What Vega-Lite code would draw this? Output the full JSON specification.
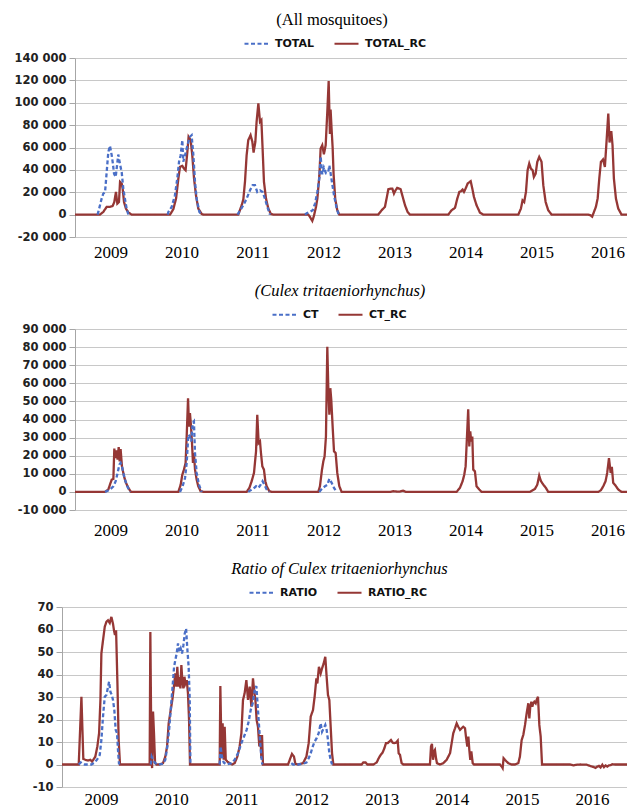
{
"$schema": "https://vega.github.io/schema/vega-lite/v6.json",
"padding": {"left": 11, "top": 11, "right": 0, "bottom": 0},
"background": "white",
"spacing": 22,
"config": {
  "view": {"stroke": null},
  "title": {"font": "Liberation Serif", "fontSize": 16.5, "fontWeight": "normal", "color": "black", "offset": 2},
  "axisY": {"domainColor": "#a6a6a6", "tickColor": "#a6a6a6", "tickSize": 6, "gridColor": "#c8c8c8", "labelFont": "DejaVu Sans", "labelFontWeight": "bold", "labelFontSize": 11.5, "labelColor": "#222222", "labelPadding": 3, "title": null},
  "axisX": {"grid": false, "ticks": false, "tickSize": 0, "domain": false, "labelFont": "Liberation Serif", "labelFontSize": 17, "labelColor": "black", "labelPadding": 7, "title": null, "labelFlush": false},
  "legend": {"title": null, "orient": "none", "direction": "horizontal", "symbolType": "stroke", "symbolSize": 576, "symbolStrokeWidth": 2.2, "labelFont": "DejaVu Sans", "labelFontWeight": "bold", "labelFontSize": 11, "labelColor": "#111111", "columnPadding": 15, "labelOffset": 5}
},
"resolve": {"scale": {"color": "independent", "strokeDash": "independent", "x": "independent", "y": "independent"}, "legend": {"color": "independent", "strokeDash": "independent"}},
"datasets": {
"t": [
{"s":"TOTAL","g":2009,"w":16.5,"v":0},{"s":"TOTAL","g":2009,"w":17.1,"v":2400},{"s":"TOTAL","g":2009,"w":19.5,"v":14300},{"s":"TOTAL","g":2009,"w":20.7,"v":18800},{"s":"TOTAL","g":2009,"w":22.0,"v":20000},{"s":"TOTAL","g":2009,"w":23.2,"v":38000},{"s":"TOTAL","g":2009,"w":24.4,"v":56000},{"s":"TOTAL","g":2009,"w":25.6,"v":61500},{"s":"TOTAL","g":2009,"w":26.9,"v":53000},{"s":"TOTAL","g":2009,"w":27.6,"v":47000},{"s":"TOTAL","g":2009,"w":28.6,"v":36700},{"s":"TOTAL","g":2009,"w":29.8,"v":33700},{"s":"TOTAL","g":2009,"w":30.5,"v":41000},{"s":"TOTAL","g":2009,"w":31.7,"v":53700},{"s":"TOTAL","g":2009,"w":33.0,"v":45000},{"s":"TOTAL","g":2009,"w":34.2,"v":38000},{"s":"TOTAL","g":2009,"w":35.4,"v":23000},{"s":"TOTAL","g":2009,"w":36.6,"v":14000},{"s":"TOTAL","g":2009,"w":37.8,"v":5400},{"s":"TOTAL","g":2009,"w":39.1,"v":0},
{"s":"TOTAL","g":2010,"w":67.9,"v":0},{"s":"TOTAL","g":2010,"w":68.4,"v":2400},{"s":"TOTAL","g":2010,"w":70.8,"v":6900},{"s":"TOTAL","g":2010,"w":73.2,"v":17300},{"s":"TOTAL","g":2010,"w":74.9,"v":32200},{"s":"TOTAL","g":2010,"w":76.2,"v":47200},{"s":"TOTAL","g":2010,"w":77.4,"v":53100},{"s":"TOTAL","g":2010,"w":78.6,"v":66600},{"s":"TOTAL","g":2010,"w":79.3,"v":47200},{"s":"TOTAL","g":2010,"w":80.6,"v":53100},{"s":"TOTAL","g":2010,"w":81.8,"v":59100},{"s":"TOTAL","g":2010,"w":83.0,"v":65100},{"s":"TOTAL","g":2010,"w":84.2,"v":69600},{"s":"TOTAL","g":2010,"w":85.4,"v":71000},{"s":"TOTAL","g":2010,"w":86.7,"v":53100},{"s":"TOTAL","g":2010,"w":87.9,"v":29300},{"s":"TOTAL","g":2010,"w":89.1,"v":14300},{"s":"TOTAL","g":2010,"w":91.1,"v":2400},{"s":"TOTAL","g":2010,"w":92.8,"v":0},
{"s":"TOTAL","g":2011,"w":119.1,"v":0},{"s":"TOTAL","g":2011,"w":119.6,"v":1200},{"s":"TOTAL","g":2011,"w":123.3,"v":8400},{"s":"TOTAL","g":2011,"w":125.7,"v":14300},{"s":"TOTAL","g":2011,"w":128.2,"v":21800},{"s":"TOTAL","g":2011,"w":130.1,"v":26300},{"s":"TOTAL","g":2011,"w":131.8,"v":26300},{"s":"TOTAL","g":2011,"w":133.5,"v":20300},{"s":"TOTAL","g":2011,"w":135.5,"v":21800},{"s":"TOTAL","g":2011,"w":137.4,"v":20300},{"s":"TOTAL","g":2011,"w":139.1,"v":14300},{"s":"TOTAL","g":2011,"w":140.9,"v":6900},{"s":"TOTAL","g":2011,"w":142.8,"v":0},
{"s":"TOTAL","g":2012,"w":168.4,"v":0},{"s":"TOTAL","g":2012,"w":169.7,"v":1200},{"s":"TOTAL","g":2012,"w":172.1,"v":2400},{"s":"TOTAL","g":2012,"w":174.1,"v":3900},{"s":"TOTAL","g":2012,"w":175.8,"v":9900},{"s":"TOTAL","g":2012,"w":177.5,"v":20300},{"s":"TOTAL","g":2012,"w":179.0,"v":33000},{"s":"TOTAL","g":2012,"w":179.9,"v":52000},{"s":"TOTAL","g":2012,"w":181.1,"v":36000},{"s":"TOTAL","g":2012,"w":182.3,"v":42000},{"s":"TOTAL","g":2012,"w":183.8,"v":37000},{"s":"TOTAL","g":2012,"w":185.5,"v":38000},{"s":"TOTAL","g":2012,"w":186.3,"v":44000},{"s":"TOTAL","g":2012,"w":188.0,"v":30700},{"s":"TOTAL","g":2012,"w":189.7,"v":17300},{"s":"TOTAL","g":2012,"w":191.6,"v":6000},{"s":"TOTAL","g":2012,"w":193.1,"v":0}
],
"trc": [
{"s":"TOTAL_RC","w":0,"v":0},{"s":"TOTAL_RC","w":18.3,"v":0},{"s":"TOTAL_RC","w":20.7,"v":2400},{"s":"TOTAL_RC","w":23.2,"v":6900},{"s":"TOTAL_RC","w":25.6,"v":6900},{"s":"TOTAL_RC","w":27.6,"v":7800},{"s":"TOTAL_RC","w":28.8,"v":11300},{"s":"TOTAL_RC","w":30.0,"v":20300},{"s":"TOTAL_RC","w":31.0,"v":9900},{"s":"TOTAL_RC","w":32.2,"v":11300},{"s":"TOTAL_RC","w":33.0,"v":29300},{"s":"TOTAL_RC","w":34.2,"v":27800},{"s":"TOTAL_RC","w":34.9,"v":23300},{"s":"TOTAL_RC","w":35.9,"v":11300},{"s":"TOTAL_RC","w":37.3,"v":5400},{"s":"TOTAL_RC","w":39.1,"v":1800},{"s":"TOTAL_RC","w":41.5,"v":0},
{"s":"TOTAL_RC","w":69.6,"v":0},{"s":"TOTAL_RC","w":72.0,"v":4800},{"s":"TOTAL_RC","w":74.0,"v":14300},{"s":"TOTAL_RC","w":75.7,"v":32200},{"s":"TOTAL_RC","w":76.9,"v":42700},{"s":"TOTAL_RC","w":78.6,"v":43600},{"s":"TOTAL_RC","w":79.8,"v":41200},{"s":"TOTAL_RC","w":81.0,"v":39700},{"s":"TOTAL_RC","w":82.3,"v":56100},{"s":"TOTAL_RC","w":83.2,"v":69600},{"s":"TOTAL_RC","w":84.7,"v":66600},{"s":"TOTAL_RC","w":85.9,"v":53100},{"s":"TOTAL_RC","w":87.2,"v":32200},{"s":"TOTAL_RC","w":88.6,"v":17300},{"s":"TOTAL_RC","w":90.3,"v":5400},{"s":"TOTAL_RC","w":92.8,"v":600},{"s":"TOTAL_RC","w":94.0,"v":0},
{"s":"TOTAL_RC","w":119.6,"v":0},{"s":"TOTAL_RC","w":122.1,"v":8400},{"s":"TOTAL_RC","w":123.3,"v":13700},{"s":"TOTAL_RC","w":124.5,"v":29300},{"s":"TOTAL_RC","w":125.7,"v":53100},{"s":"TOTAL_RC","w":126.9,"v":66600},{"s":"TOTAL_RC","w":128.6,"v":71000},{"s":"TOTAL_RC","w":129.9,"v":65100},{"s":"TOTAL_RC","w":130.8,"v":55500},{"s":"TOTAL_RC","w":132.1,"v":65100},{"s":"TOTAL_RC","w":133.0,"v":83000},{"s":"TOTAL_RC","w":134.3,"v":99400},{"s":"TOTAL_RC","w":135.5,"v":83000},{"s":"TOTAL_RC","w":136.5,"v":84500},{"s":"TOTAL_RC","w":137.4,"v":59100},{"s":"TOTAL_RC","w":138.4,"v":29300},{"s":"TOTAL_RC","w":139.9,"v":14300},{"s":"TOTAL_RC","w":141.6,"v":5400},{"s":"TOTAL_RC","w":143.5,"v":600},{"s":"TOTAL_RC","w":145.2,"v":0},
{"s":"TOTAL_RC","w":170.9,"v":0},{"s":"TOTAL_RC","w":172.1,"v":-2000},{"s":"TOTAL_RC","w":173.8,"v":-5700},{"s":"TOTAL_RC","w":175.0,"v":-1200},{"s":"TOTAL_RC","w":176.5,"v":6900},{"s":"TOTAL_RC","w":177.5,"v":14300},{"s":"TOTAL_RC","w":179.0,"v":35000},{"s":"TOTAL_RC","w":179.9,"v":59000},{"s":"TOTAL_RC","w":181.1,"v":62000},{"s":"TOTAL_RC","w":182.3,"v":54000},{"s":"TOTAL_RC","w":183.6,"v":62000},{"s":"TOTAL_RC","w":184.8,"v":92000},{"s":"TOTAL_RC","w":185.8,"v":119500},{"s":"TOTAL_RC","w":186.7,"v":72000},{"s":"TOTAL_RC","w":187.2,"v":94000},{"s":"TOTAL_RC","w":188.0,"v":75000},{"s":"TOTAL_RC","w":188.7,"v":60000},{"s":"TOTAL_RC","w":189.4,"v":36000},{"s":"TOTAL_RC","w":190.6,"v":14000},{"s":"TOTAL_RC","w":192.1,"v":4000},{"s":"TOTAL_RC","w":193.6,"v":0},
{"s":"TOTAL_RC","w":222.1,"v":0},{"s":"TOTAL_RC","w":224.6,"v":3900},{"s":"TOTAL_RC","w":227.0,"v":6900},{"s":"TOTAL_RC","w":228.2,"v":14300},{"s":"TOTAL_RC","w":229.5,"v":22700},{"s":"TOTAL_RC","w":231.2,"v":23300},{"s":"TOTAL_RC","w":232.4,"v":23300},{"s":"TOTAL_RC","w":233.6,"v":18800},{"s":"TOTAL_RC","w":234.8,"v":21800},{"s":"TOTAL_RC","w":236.0,"v":23900},{"s":"TOTAL_RC","w":237.3,"v":23300},{"s":"TOTAL_RC","w":238.5,"v":22700},{"s":"TOTAL_RC","w":239.7,"v":17300},{"s":"TOTAL_RC","w":241.7,"v":8400},{"s":"TOTAL_RC","w":243.6,"v":2400},{"s":"TOTAL_RC","w":245.3,"v":0},
{"s":"TOTAL_RC","w":273.4,"v":0},{"s":"TOTAL_RC","w":275.8,"v":3900},{"s":"TOTAL_RC","w":278.3,"v":6000},{"s":"TOTAL_RC","w":280.0,"v":14300},{"s":"TOTAL_RC","w":281.5,"v":20300},{"s":"TOTAL_RC","w":282.7,"v":20900},{"s":"TOTAL_RC","w":283.9,"v":22400},{"s":"TOTAL_RC","w":284.9,"v":20300},{"s":"TOTAL_RC","w":286.1,"v":23300},{"s":"TOTAL_RC","w":287.6,"v":27800},{"s":"TOTAL_RC","w":289.8,"v":29900},{"s":"TOTAL_RC","w":291.0,"v":23300},{"s":"TOTAL_RC","w":292.2,"v":15800},{"s":"TOTAL_RC","w":294.1,"v":8400},{"s":"TOTAL_RC","w":296.6,"v":1800},{"s":"TOTAL_RC","w":299.0,"v":0},
{"s":"TOTAL_RC","w":324.7,"v":0},{"s":"TOTAL_RC","w":326.6,"v":5400},{"s":"TOTAL_RC","w":327.8,"v":12800},{"s":"TOTAL_RC","w":329.0,"v":11300},{"s":"TOTAL_RC","w":330.3,"v":20300},{"s":"TOTAL_RC","w":331.5,"v":39700},{"s":"TOTAL_RC","w":332.7,"v":45700},{"s":"TOTAL_RC","w":333.9,"v":41200},{"s":"TOTAL_RC","w":335.2,"v":39700},{"s":"TOTAL_RC","w":336.1,"v":33700},{"s":"TOTAL_RC","w":337.4,"v":36700},{"s":"TOTAL_RC","w":338.6,"v":47200},{"s":"TOTAL_RC","w":340.0,"v":51600},{"s":"TOTAL_RC","w":341.7,"v":47200},{"s":"TOTAL_RC","w":343.0,"v":26300},{"s":"TOTAL_RC","w":344.7,"v":11300},{"s":"TOTAL_RC","w":346.6,"v":3900},{"s":"TOTAL_RC","w":349.1,"v":0},
{"s":"TOTAL_RC","w":375.9,"v":0},{"s":"TOTAL_RC","w":377.6,"v":-600},{"s":"TOTAL_RC","w":378.8,"v":-1800},{"s":"TOTAL_RC","w":380.1,"v":2400},{"s":"TOTAL_RC","w":381.5,"v":6900},{"s":"TOTAL_RC","w":382.8,"v":14300},{"s":"TOTAL_RC","w":384.0,"v":32200},{"s":"TOTAL_RC","w":385.2,"v":47200},{"s":"TOTAL_RC","w":386.7,"v":49300},{"s":"TOTAL_RC","w":388.1,"v":42700},{"s":"TOTAL_RC","w":389.3,"v":65100},{"s":"TOTAL_RC","w":390.6,"v":90400},{"s":"TOTAL_RC","w":391.5,"v":64500},{"s":"TOTAL_RC","w":392.8,"v":74600},{"s":"TOTAL_RC","w":393.7,"v":62100},{"s":"TOTAL_RC","w":394.7,"v":32200},{"s":"TOTAL_RC","w":396.2,"v":14300},{"s":"TOTAL_RC","w":397.9,"v":5400},{"s":"TOTAL_RC","w":400.3,"v":0},{"s":"TOTAL_RC","w":404.3,"v":0}
],
"c": [
{"s":"CT","g":2009,"w":22.0,"v":0},{"s":"CT","g":2009,"w":23.2,"v":400},{"s":"CT","g":2009,"w":25.6,"v":1300},{"s":"CT","g":2009,"w":28.1,"v":3100},{"s":"CT","g":2009,"w":29.8,"v":5900},{"s":"CT","g":2009,"w":31.2,"v":10500},{"s":"CT","g":2009,"w":32.5,"v":15000},{"s":"CT","g":2009,"w":33.4,"v":16000},{"s":"CT","g":2009,"w":34.4,"v":14100},{"s":"CT","g":2009,"w":35.4,"v":10500},{"s":"CT","g":2009,"w":36.6,"v":6800},{"s":"CT","g":2009,"w":38.3,"v":3100},{"s":"CT","g":2009,"w":40.3,"v":0},
{"s":"CT","g":2010,"w":76.9,"v":0},{"s":"CT","g":2010,"w":78.8,"v":3100},{"s":"CT","g":2010,"w":80.6,"v":7700},{"s":"CT","g":2010,"w":81.8,"v":16000},{"s":"CT","g":2010,"w":83.0,"v":31600},{"s":"CT","g":2010,"w":84.2,"v":30600},{"s":"CT","g":2010,"w":85.2,"v":27900},{"s":"CT","g":2010,"w":86.2,"v":38000},{"s":"CT","g":2010,"w":87.1,"v":38900},{"s":"CT","g":2010,"w":87.9,"v":21500},{"s":"CT","g":2010,"w":89.1,"v":10500},{"s":"CT","g":2010,"w":90.8,"v":4000},{"s":"CT","g":2010,"w":92.8,"v":0},
{"s":"CT","g":2011,"w":126.9,"v":0},{"s":"CT","g":2011,"w":128.2,"v":700},{"s":"CT","g":2011,"w":130.6,"v":1800},{"s":"CT","g":2011,"w":132.6,"v":3100},{"s":"CT","g":2011,"w":134.3,"v":2200},{"s":"CT","g":2011,"w":136.0,"v":4000},{"s":"CT","g":2011,"w":137.4,"v":5900},{"s":"CT","g":2011,"w":138.7,"v":4000},{"s":"CT","g":2011,"w":140.4,"v":1300},{"s":"CT","g":2011,"w":142.3,"v":0},
{"s":"CT","g":2012,"w":178.9,"v":0},{"s":"CT","g":2012,"w":181.4,"v":2200},{"s":"CT","g":2012,"w":183.1,"v":3100},{"s":"CT","g":2012,"w":184.8,"v":3900},{"s":"CT","g":2012,"w":186.3,"v":7200},{"s":"CT","g":2012,"w":188.0,"v":5000},{"s":"CT","g":2012,"w":189.7,"v":2200},{"s":"CT","g":2012,"w":191.6,"v":0}
],
"crc": [
{"s":"CT_RC","w":0,"v":0},{"s":"CT_RC","w":22.0,"v":0},{"s":"CT_RC","w":24.4,"v":1300},{"s":"CT_RC","w":25.6,"v":4000},{"s":"CT_RC","w":26.9,"v":6800},{"s":"CT_RC","w":28.1,"v":7200},{"s":"CT_RC","w":28.8,"v":23900},{"s":"CT_RC","w":29.5,"v":18700},{"s":"CT_RC","w":30.5,"v":22900},{"s":"CT_RC","w":31.2,"v":17800},{"s":"CT_RC","w":32.0,"v":24800},{"s":"CT_RC","w":32.7,"v":16900},{"s":"CT_RC","w":33.4,"v":23700},{"s":"CT_RC","w":34.4,"v":14100},{"s":"CT_RC","w":35.9,"v":8600},{"s":"CT_RC","w":37.3,"v":5000},{"s":"CT_RC","w":39.1,"v":2200},{"s":"CT_RC","w":41.0,"v":0},
{"s":"CT_RC","w":75.7,"v":0},{"s":"CT_RC","w":77.4,"v":4000},{"s":"CT_RC","w":78.6,"v":9500},{"s":"CT_RC","w":79.8,"v":12300},{"s":"CT_RC","w":81.0,"v":16000},{"s":"CT_RC","w":81.8,"v":30600},{"s":"CT_RC","w":82.8,"v":51700},{"s":"CT_RC","w":83.5,"v":36100},{"s":"CT_RC","w":84.2,"v":43500},{"s":"CT_RC","w":85.0,"v":36100},{"s":"CT_RC","w":85.7,"v":27000},{"s":"CT_RC","w":86.4,"v":16000},{"s":"CT_RC","w":87.1,"v":21500},{"s":"CT_RC","w":87.9,"v":12300},{"s":"CT_RC","w":89.1,"v":6800},{"s":"CT_RC","w":90.3,"v":3100},{"s":"CT_RC","w":92.0,"v":400},{"s":"CT_RC","w":94.0,"v":0},
{"s":"CT_RC","w":125.7,"v":0},{"s":"CT_RC","w":127.7,"v":2200},{"s":"CT_RC","w":129.4,"v":5900},{"s":"CT_RC","w":131.1,"v":10500},{"s":"CT_RC","w":132.6,"v":22400},{"s":"CT_RC","w":133.5,"v":42600},{"s":"CT_RC","w":134.5,"v":27000},{"s":"CT_RC","w":135.5,"v":27900},{"s":"CT_RC","w":136.2,"v":21500},{"s":"CT_RC","w":137.2,"v":14100},{"s":"CT_RC","w":138.4,"v":12300},{"s":"CT_RC","w":139.4,"v":5900},{"s":"CT_RC","w":140.4,"v":3100},{"s":"CT_RC","w":142.3,"v":400},{"s":"CT_RC","w":144.0,"v":0},
{"s":"CT_RC","w":178.2,"v":0},{"s":"CT_RC","w":179.4,"v":3100},{"s":"CT_RC","w":180.9,"v":12300},{"s":"CT_RC","w":181.9,"v":16900},{"s":"CT_RC","w":182.8,"v":19600},{"s":"CT_RC","w":183.8,"v":30600},{"s":"CT_RC","w":184.8,"v":80200},{"s":"CT_RC","w":185.5,"v":58200},{"s":"CT_RC","w":186.3,"v":42600},{"s":"CT_RC","w":187.0,"v":57300},{"s":"CT_RC","w":187.7,"v":50800},{"s":"CT_RC","w":188.7,"v":36100},{"s":"CT_RC","w":189.7,"v":22400},{"s":"CT_RC","w":190.9,"v":21500},{"s":"CT_RC","w":192.1,"v":10500},{"s":"CT_RC","w":193.6,"v":3100},{"s":"CT_RC","w":195.3,"v":0},
{"s":"CT_RC","w":230.7,"v":0},{"s":"CT_RC","w":233.1,"v":400},{"s":"CT_RC","w":235.6,"v":200},{"s":"CT_RC","w":238.0,"v":200},{"s":"CT_RC","w":240.4,"v":700},{"s":"CT_RC","w":242.2,"v":0},
{"s":"CT_RC","w":279.5,"v":0},{"s":"CT_RC","w":281.9,"v":2200},{"s":"CT_RC","w":283.9,"v":5900},{"s":"CT_RC","w":285.1,"v":9500},{"s":"CT_RC","w":286.1,"v":14100},{"s":"CT_RC","w":287.1,"v":30600},{"s":"CT_RC","w":288.0,"v":45700},{"s":"CT_RC","w":288.8,"v":25100},{"s":"CT_RC","w":289.5,"v":33400},{"s":"CT_RC","w":290.2,"v":27900},{"s":"CT_RC","w":291.0,"v":30600},{"s":"CT_RC","w":291.7,"v":12300},{"s":"CT_RC","w":292.9,"v":11400},{"s":"CT_RC","w":294.1,"v":3100},{"s":"CT_RC","w":296.1,"v":1300},{"s":"CT_RC","w":297.8,"v":0},
{"s":"CT_RC","w":333.2,"v":0},{"s":"CT_RC","w":335.2,"v":900},{"s":"CT_RC","w":336.9,"v":1700},{"s":"CT_RC","w":338.6,"v":4000},{"s":"CT_RC","w":340.0,"v":9000},{"s":"CT_RC","w":341.3,"v":5900},{"s":"CT_RC","w":343.0,"v":4000},{"s":"CT_RC","w":344.9,"v":2200},{"s":"CT_RC","w":346.6,"v":0},
{"s":"CT_RC","w":383.2,"v":0},{"s":"CT_RC","w":385.2,"v":900},{"s":"CT_RC","w":386.9,"v":3100},{"s":"CT_RC","w":388.6,"v":5900},{"s":"CT_RC","w":389.8,"v":10500},{"s":"CT_RC","w":391.1,"v":18700},{"s":"CT_RC","w":392.3,"v":10500},{"s":"CT_RC","w":393.2,"v":13800},{"s":"CT_RC","w":394.2,"v":5000},{"s":"CT_RC","w":395.9,"v":3500},{"s":"CT_RC","w":397.9,"v":1300},{"s":"CT_RC","w":400.3,"v":0},{"s":"CT_RC","w":404.3,"v":0}
],
"r": [
{"s":"RATIO","g":2009,"w":9.4,"v":0},{"s":"RATIO","g":2009,"w":10.9,"v":0.9},{"s":"RATIO","g":2009,"w":11.9,"v":0.3},{"s":"RATIO","g":2009,"w":13.8,"v":0},{"s":"RATIO","g":2009,"w":18.8,"v":0},{"s":"RATIO","g":2009,"w":21.3,"v":0.9},{"s":"RATIO","g":2009,"w":23.2,"v":2.4},{"s":"RATIO","g":2009,"w":25.0,"v":4.3},{"s":"RATIO","g":2009,"w":26.2,"v":10.9},{"s":"RATIO","g":2009,"w":27.4,"v":21.3},{"s":"RATIO","g":2009,"w":28.7,"v":30.1},{"s":"RATIO","g":2009,"w":29.9,"v":30.9},{"s":"RATIO","g":2009,"w":30.9,"v":33.8},{"s":"RATIO","g":2009,"w":31.9,"v":36.8},{"s":"RATIO","g":2009,"w":32.9,"v":32.3},{"s":"RATIO","g":2009,"w":33.9,"v":30.9},{"s":"RATIO","g":2009,"w":34.8,"v":28.7},{"s":"RATIO","g":2009,"w":35.8,"v":24.2},{"s":"RATIO","g":2009,"w":36.8,"v":15.4},{"s":"RATIO","g":2009,"w":37.8,"v":13.9},{"s":"RATIO","g":2009,"w":38.5,"v":6.5},{"s":"RATIO","g":2009,"w":39.3,"v":0},
{"s":"RATIO","g":2010,"w":62.8,"v":0},{"s":"RATIO","g":2010,"w":63.5,"v":3.5},{"s":"RATIO","g":2010,"w":64.5,"v":2.1},{"s":"RATIO","g":2010,"w":65.7,"v":0.9},{"s":"RATIO","g":2010,"w":67.5,"v":0},{"s":"RATIO","g":2010,"w":71.9,"v":0.3},{"s":"RATIO","g":2010,"w":73.6,"v":2.1},{"s":"RATIO","g":2010,"w":75.1,"v":8.0},{"s":"RATIO","g":2010,"w":76.4,"v":15.4},{"s":"RATIO","g":2010,"w":77.6,"v":24.2},{"s":"RATIO","g":2010,"w":78.8,"v":33.1},{"s":"RATIO","g":2010,"w":80.1,"v":43.4},{"s":"RATIO","g":2010,"w":81.0,"v":46.4},{"s":"RATIO","g":2010,"w":82.0,"v":49.3},{"s":"RATIO","g":2010,"w":83.0,"v":53.8},{"s":"RATIO","g":2010,"w":84.0,"v":50.1},{"s":"RATIO","g":2010,"w":85.0,"v":51.6},{"s":"RATIO","g":2010,"w":86.0,"v":49.3},{"s":"RATIO","g":2010,"w":87.0,"v":53.0},{"s":"RATIO","g":2010,"w":88.0,"v":58.2},{"s":"RATIO","g":2010,"w":89.0,"v":60.4},{"s":"RATIO","g":2010,"w":89.9,"v":51.6},{"s":"RATIO","g":2010,"w":90.9,"v":43.4},{"s":"RATIO","g":2010,"w":91.7,"v":28.7},{"s":"RATIO","g":2010,"w":92.2,"v":0},
{"s":"RATIO","g":2011,"w":113.9,"v":0},{"s":"RATIO","g":2011,"w":114.6,"v":8.0},{"s":"RATIO","g":2011,"w":115.6,"v":3.5},{"s":"RATIO","g":2011,"w":116.9,"v":0.9},{"s":"RATIO","g":2011,"w":118.9,"v":0},{"s":"RATIO","g":2011,"w":122.6,"v":0.6},{"s":"RATIO","g":2011,"w":125.0,"v":2.1},{"s":"RATIO","g":2011,"w":127.5,"v":5.0},{"s":"RATIO","g":2011,"w":130.0,"v":9.5},{"s":"RATIO","g":2011,"w":132.4,"v":13.1},{"s":"RATIO","g":2011,"w":133.9,"v":15.4},{"s":"RATIO","g":2011,"w":135.4,"v":19.1},{"s":"RATIO","g":2011,"w":136.9,"v":24.2},{"s":"RATIO","g":2011,"w":138.4,"v":27.2},{"s":"RATIO","g":2011,"w":139.9,"v":33.1},{"s":"RATIO","g":2011,"w":141.1,"v":34.9},{"s":"RATIO","g":2011,"w":141.8,"v":28.7},{"s":"RATIO","g":2011,"w":142.8,"v":19.8},{"s":"RATIO","g":2011,"w":143.8,"v":10.9},{"s":"RATIO","g":2011,"w":144.8,"v":3.5},{"s":"RATIO","g":2011,"w":145.5,"v":0},
{"s":"RATIO","g":2012,"w":167.0,"v":0.6},{"s":"RATIO","g":2012,"w":168.3,"v":0},{"s":"RATIO","g":2012,"w":172.0,"v":0},{"s":"RATIO","g":2012,"w":175.7,"v":0.3},{"s":"RATIO","g":2012,"w":178.2,"v":0.9},{"s":"RATIO","g":2012,"w":179.9,"v":2.8},{"s":"RATIO","g":2012,"w":181.4,"v":5.0},{"s":"RATIO","g":2012,"w":182.9,"v":8.0},{"s":"RATIO","g":2012,"w":184.3,"v":10.2},{"s":"RATIO","g":2012,"w":185.8,"v":11.7},{"s":"RATIO","g":2012,"w":187.3,"v":13.9},{"s":"RATIO","g":2012,"w":188.8,"v":18.3},{"s":"RATIO","g":2012,"w":189.8,"v":14.6},{"s":"RATIO","g":2012,"w":191.0,"v":16.1},{"s":"RATIO","g":2012,"w":192.2,"v":17.6},{"s":"RATIO","g":2012,"w":193.2,"v":15.4},{"s":"RATIO","g":2012,"w":194.2,"v":10.9},{"s":"RATIO","g":2012,"w":195.2,"v":5.0},{"s":"RATIO","g":2012,"w":196.2,"v":2.1},{"s":"RATIO","g":2012,"w":197.2,"v":0}
],
"rrc": [
{"s":"RATIO_RC","w":-3,"v":0},{"s":"RATIO_RC","w":9.4,"v":0},{"s":"RATIO_RC","w":11.4,"v":30.1},{"s":"RATIO_RC","w":12.8,"v":2.5},{"s":"RATIO_RC","w":14.3,"v":2.1},{"s":"RATIO_RC","w":16.3,"v":1.8},{"s":"RATIO_RC","w":18.0,"v":2.1},{"s":"RATIO_RC","w":19.3,"v":1.3},{"s":"RATIO_RC","w":20.5,"v":2.4},{"s":"RATIO_RC","w":21.7,"v":3.5},{"s":"RATIO_RC","w":23.2,"v":8.0},{"s":"RATIO_RC","w":24.5,"v":13.9},{"s":"RATIO_RC","w":25.5,"v":28.7},{"s":"RATIO_RC","w":26.2,"v":49.3},{"s":"RATIO_RC","w":27.4,"v":55.2},{"s":"RATIO_RC","w":28.7,"v":61.2},{"s":"RATIO_RC","w":29.9,"v":63.4},{"s":"RATIO_RC","w":31.1,"v":64.1},{"s":"RATIO_RC","w":32.4,"v":62.9},{"s":"RATIO_RC","w":33.6,"v":65.6},{"s":"RATIO_RC","w":34.8,"v":62.6},{"s":"RATIO_RC","w":35.6,"v":59.4},{"s":"RATIO_RC","w":36.3,"v":57.5},{"s":"RATIO_RC","w":37.1,"v":59.7},{"s":"RATIO_RC","w":38.1,"v":36.0},{"s":"RATIO_RC","w":39.0,"v":10.9},{"s":"RATIO_RC","w":40.0,"v":0},
{"s":"RATIO_RC","w":62.0,"v":0},{"s":"RATIO_RC","w":62.5,"v":58.9},{"s":"RATIO_RC","w":63.3,"v":3.5},{"s":"RATIO_RC","w":63.8,"v":-1.6},{"s":"RATIO_RC","w":64.5,"v":23.5},{"s":"RATIO_RC","w":65.2,"v":13.9},{"s":"RATIO_RC","w":66.0,"v":0.6},{"s":"RATIO_RC","w":67.0,"v":0},{"s":"RATIO_RC","w":69.4,"v":0},{"s":"RATIO_RC","w":71.9,"v":0.6},{"s":"RATIO_RC","w":73.6,"v":3.5},{"s":"RATIO_RC","w":74.9,"v":8.0},{"s":"RATIO_RC","w":76.1,"v":18.3},{"s":"RATIO_RC","w":77.6,"v":24.2},{"s":"RATIO_RC","w":78.8,"v":28.7},{"s":"RATIO_RC","w":80.1,"v":35.3},{"s":"RATIO_RC","w":81.0,"v":40.5},{"s":"RATIO_RC","w":81.8,"v":34.6},{"s":"RATIO_RC","w":82.5,"v":43.4},{"s":"RATIO_RC","w":83.3,"v":34.6},{"s":"RATIO_RC","w":84.0,"v":39.0},{"s":"RATIO_RC","w":84.8,"v":33.8},{"s":"RATIO_RC","w":85.5,"v":44.2},{"s":"RATIO_RC","w":86.2,"v":37.5},{"s":"RATIO_RC","w":87.0,"v":33.8},{"s":"RATIO_RC","w":87.8,"v":39.0},{"s":"RATIO_RC","w":88.5,"v":36.0},{"s":"RATIO_RC","w":89.5,"v":37.5},{"s":"RATIO_RC","w":90.4,"v":31.6},{"s":"RATIO_RC","w":91.2,"v":19.8},{"s":"RATIO_RC","w":91.9,"v":0},
{"s":"RATIO_RC","w":113.9,"v":0},{"s":"RATIO_RC","w":114.4,"v":34.9},{"s":"RATIO_RC","w":115.1,"v":10.9},{"s":"RATIO_RC","w":115.6,"v":3.5},{"s":"RATIO_RC","w":116.1,"v":18.3},{"s":"RATIO_RC","w":116.9,"v":2.1},{"s":"RATIO_RC","w":117.6,"v":16.8},{"s":"RATIO_RC","w":118.4,"v":2.1},{"s":"RATIO_RC","w":119.6,"v":1.3},{"s":"RATIO_RC","w":121.3,"v":0.6},{"s":"RATIO_RC","w":123.1,"v":0},{"s":"RATIO_RC","w":125.0,"v":0.6},{"s":"RATIO_RC","w":127.0,"v":3.5},{"s":"RATIO_RC","w":128.7,"v":8.0},{"s":"RATIO_RC","w":130.0,"v":13.9},{"s":"RATIO_RC","w":131.2,"v":28.7},{"s":"RATIO_RC","w":132.4,"v":31.6},{"s":"RATIO_RC","w":133.7,"v":37.5},{"s":"RATIO_RC","w":134.9,"v":28.7},{"s":"RATIO_RC","w":136.2,"v":34.6},{"s":"RATIO_RC","w":137.4,"v":25.7},{"s":"RATIO_RC","w":138.6,"v":38.3},{"s":"RATIO_RC","w":139.4,"v":33.1},{"s":"RATIO_RC","w":140.4,"v":28.7},{"s":"RATIO_RC","w":141.3,"v":19.8},{"s":"RATIO_RC","w":142.3,"v":16.8},{"s":"RATIO_RC","w":143.3,"v":8.0},{"s":"RATIO_RC","w":144.1,"v":13.1},{"s":"RATIO_RC","w":144.8,"v":2.8},{"s":"RATIO_RC","w":145.3,"v":13.1},{"s":"RATIO_RC","w":146.0,"v":0},
{"s":"RATIO_RC","w":164.6,"v":0},{"s":"RATIO_RC","w":166.3,"v":2.8},{"s":"RATIO_RC","w":167.5,"v":4.7},{"s":"RATIO_RC","w":169.0,"v":3.5},{"s":"RATIO_RC","w":170.0,"v":0.3},{"s":"RATIO_RC","w":172.0,"v":0},{"s":"RATIO_RC","w":175.7,"v":0.6},{"s":"RATIO_RC","w":178.2,"v":3.5},{"s":"RATIO_RC","w":179.9,"v":9.5},{"s":"RATIO_RC","w":181.4,"v":21.3},{"s":"RATIO_RC","w":183.1,"v":24.2},{"s":"RATIO_RC","w":184.3,"v":30.1},{"s":"RATIO_RC","w":185.6,"v":38.3},{"s":"RATIO_RC","w":186.3,"v":36.0},{"s":"RATIO_RC","w":187.5,"v":43.4},{"s":"RATIO_RC","w":188.8,"v":40.5},{"s":"RATIO_RC","w":189.8,"v":42.7},{"s":"RATIO_RC","w":191.0,"v":44.9},{"s":"RATIO_RC","w":192.2,"v":47.9},{"s":"RATIO_RC","w":193.2,"v":39.0},{"s":"RATIO_RC","w":194.2,"v":30.9},{"s":"RATIO_RC","w":195.2,"v":28.7},{"s":"RATIO_RC","w":196.2,"v":16.8},{"s":"RATIO_RC","w":197.2,"v":5.0},{"s":"RATIO_RC","w":198.2,"v":0},
{"s":"RATIO_RC","w":219.2,"v":0},{"s":"RATIO_RC","w":220.4,"v":0.9},{"s":"RATIO_RC","w":222.1,"v":0.9},{"s":"RATIO_RC","w":223.4,"v":0},{"s":"RATIO_RC","w":227.8,"v":0},{"s":"RATIO_RC","w":230.3,"v":0.9},{"s":"RATIO_RC","w":231.8,"v":2.8},{"s":"RATIO_RC","w":233.3,"v":4.3},{"s":"RATIO_RC","w":234.7,"v":5.3},{"s":"RATIO_RC","w":236.0,"v":7.2},{"s":"RATIO_RC","w":237.2,"v":9.5},{"s":"RATIO_RC","w":238.5,"v":9.5},{"s":"RATIO_RC","w":239.7,"v":10.2},{"s":"RATIO_RC","w":240.9,"v":10.9},{"s":"RATIO_RC","w":242.2,"v":9.7},{"s":"RATIO_RC","w":243.4,"v":9.5},{"s":"RATIO_RC","w":244.6,"v":9.7},{"s":"RATIO_RC","w":245.9,"v":10.6},{"s":"RATIO_RC","w":246.6,"v":5.0},{"s":"RATIO_RC","w":247.6,"v":4.3},{"s":"RATIO_RC","w":248.8,"v":0.6},{"s":"RATIO_RC","w":250.1,"v":0},
{"s":"RATIO_RC","w":269.8,"v":0},{"s":"RATIO_RC","w":270.6,"v":8.0},{"s":"RATIO_RC","w":271.3,"v":9.2},{"s":"RATIO_RC","w":272.1,"v":2.1},{"s":"RATIO_RC","w":272.8,"v":5.8},{"s":"RATIO_RC","w":273.5,"v":6.5},{"s":"RATIO_RC","w":274.3,"v":2.8},{"s":"RATIO_RC","w":275.0,"v":0.6},{"s":"RATIO_RC","w":277.2,"v":0},{"s":"RATIO_RC","w":279.7,"v":0.6},{"s":"RATIO_RC","w":282.2,"v":2.1},{"s":"RATIO_RC","w":284.7,"v":5.0},{"s":"RATIO_RC","w":285.9,"v":9.5},{"s":"RATIO_RC","w":287.1,"v":13.9},{"s":"RATIO_RC","w":288.4,"v":16.1},{"s":"RATIO_RC","w":289.6,"v":18.3},{"s":"RATIO_RC","w":290.8,"v":16.8},{"s":"RATIO_RC","w":292.1,"v":15.4},{"s":"RATIO_RC","w":293.3,"v":16.1},{"s":"RATIO_RC","w":294.5,"v":16.8},{"s":"RATIO_RC","w":295.8,"v":16.1},{"s":"RATIO_RC","w":296.5,"v":12.4},{"s":"RATIO_RC","w":297.5,"v":8.0},{"s":"RATIO_RC","w":298.3,"v":12.4},{"s":"RATIO_RC","w":299.0,"v":6.5},{"s":"RATIO_RC","w":299.7,"v":2.1},{"s":"RATIO_RC","w":300.5,"v":5.8},{"s":"RATIO_RC","w":301.5,"v":0.6},{"s":"RATIO_RC","w":302.5,"v":0},
{"s":"RATIO_RC","w":321.7,"v":0},{"s":"RATIO_RC","w":323.0,"v":-0.9},{"s":"RATIO_RC","w":323.7,"v":-1.6},{"s":"RATIO_RC","w":324.4,"v":2.8},{"s":"RATIO_RC","w":325.4,"v":2.1},{"s":"RATIO_RC","w":326.7,"v":1.3},{"s":"RATIO_RC","w":327.9,"v":0.6},{"s":"RATIO_RC","w":330.4,"v":0},{"s":"RATIO_RC","w":332.8,"v":0},{"s":"RATIO_RC","w":335.3,"v":0.6},{"s":"RATIO_RC","w":336.5,"v":3.5},{"s":"RATIO_RC","w":337.8,"v":10.9},{"s":"RATIO_RC","w":339.0,"v":13.1},{"s":"RATIO_RC","w":340.3,"v":17.6},{"s":"RATIO_RC","w":341.5,"v":22.7},{"s":"RATIO_RC","w":342.7,"v":27.2},{"s":"RATIO_RC","w":343.5,"v":20.5},{"s":"RATIO_RC","w":344.2,"v":25.7},{"s":"RATIO_RC","w":345.0,"v":27.9},{"s":"RATIO_RC","w":345.7,"v":25.7},{"s":"RATIO_RC","w":346.4,"v":27.2},{"s":"RATIO_RC","w":347.2,"v":27.9},{"s":"RATIO_RC","w":348.2,"v":27.2},{"s":"RATIO_RC","w":348.9,"v":28.7},{"s":"RATIO_RC","w":349.9,"v":30.1},{"s":"RATIO_RC","w":350.9,"v":17.6},{"s":"RATIO_RC","w":351.9,"v":12.4},{"s":"RATIO_RC","w":352.9,"v":0},
{"s":"RATIO_RC","w":373.6,"v":0},{"s":"RATIO_RC","w":376.1,"v":-0.4},{"s":"RATIO_RC","w":378.6,"v":-0.1},{"s":"RATIO_RC","w":381.0,"v":0},{"s":"RATIO_RC","w":386.0,"v":-0.1},{"s":"RATIO_RC","w":389.9,"v":-0.9},{"s":"RATIO_RC","w":391.4,"v":-1.2},{"s":"RATIO_RC","w":392.6,"v":-1.5},{"s":"RATIO_RC","w":393.9,"v":-0.9},{"s":"RATIO_RC","w":395.1,"v":-0.6},{"s":"RATIO_RC","w":396.3,"v":-1.3},{"s":"RATIO_RC","w":397.6,"v":-0.1},{"s":"RATIO_RC","w":398.8,"v":-1.2},{"s":"RATIO_RC","w":400.0,"v":-0.4},{"s":"RATIO_RC","w":401.3,"v":-0.9},{"s":"RATIO_RC","w":402.5,"v":-0.4},{"s":"RATIO_RC","w":403.8,"v":-0.3},{"s":"RATIO_RC","w":405.0,"v":0.1},{"s":"RATIO_RC","w":407.0,"v":0},{"s":"RATIO_RC","w":415.9,"v":0}
]
},
"vconcat": [
{"spacing": 0,
 "resolve": {"scale": {"color": "independent", "strokeDash": "independent"}, "legend": {"color": "independent", "strokeDash": "independent"}},
 "hconcat": [
 {"width": 1, "height": 1, "data": {"values": []}, "mark": {"type": "point", "opacity": 0}},
 {
  "width": 552, "height": 179,
  "title": {"text": "(All mosquitoes)", "dx": -19},
  "encoding": {
    "x": {"field": "w", "type": "quantitative", "scale": {"domain": [0, 404.3], "nice": false, "zero": false}, "axis": {"values": [26,78,130,182,234,286,338,390], "labelExpr": "'' + (2009 + floor(datum.value / 52))"}},
    "y": {"field": "v", "type": "quantitative", "scale": {"domain": [-20000, 140000], "nice": false, "zero": false}, "axis": {"values": [-20000,0,20000,40000,60000,80000,100000,120000,140000], "minExtent": 63, "maxExtent": 63, "labelExpr": "replace(replace(format(datum.value, ','), regexp(',', 'g'), ' '), '−', '-')"}},
    "color": {"field": "s", "type": "nominal", "scale": {"domain": ["TOTAL", "TOTAL_RC"], "range": ["#4a6fc7", "#953735"]}, "legend": {"legendX": 168, "legendY": -28}},
    "strokeDash": {"field": "s", "type": "nominal", "scale": {"domain": ["TOTAL", "TOTAL_RC"], "range": [[4, 2.5], [1, 0]]}, "legend": {"legendX": 168, "legendY": -28}}
  },
  "layer": [
    {"data": {"name": "trc"}, "mark": {"type": "line", "strokeWidth": 2.3}},
    {"data": {"name": "t"}, "mark": {"type": "line", "strokeWidth": 2.3}, "encoding": {"detail": {"field": "g", "type": "nominal"}}}
  ]
 }
]},
{"spacing": 0,
 "resolve": {"scale": {"color": "independent", "strokeDash": "independent"}, "legend": {"color": "independent", "strokeDash": "independent"}},
 "hconcat": [
 {"width": 1, "height": 1, "data": {"values": []}, "mark": {"type": "point", "opacity": 0}},
 {
  "width": 552, "height": 181,
  "title": {"text": "(Culex tritaeniorhynchus)", "dx": -11, "fontStyle": "italic"},
  "encoding": {
    "x": {"field": "w", "type": "quantitative", "scale": {"domain": [0, 404.3], "nice": false, "zero": false}, "axis": {"values": [26,78,130,182,234,286,338,390], "labelExpr": "'' + (2009 + floor(datum.value / 52))", "labelPadding": 12}},
    "y": {"field": "v", "type": "quantitative", "scale": {"domain": [-10000, 90000], "nice": false, "zero": false}, "axis": {"values": [-10000,0,10000,20000,30000,40000,50000,60000,70000,80000,90000], "minExtent": 63, "maxExtent": 63, "labelExpr": "replace(replace(format(datum.value, ','), regexp(',', 'g'), ' '), '−', '-')"}},
    "color": {"field": "s", "type": "nominal", "scale": {"domain": ["CT", "CT_RC"], "range": ["#4a6fc7", "#953735"]}, "legend": {"legendX": 196, "legendY": -28}},
    "strokeDash": {"field": "s", "type": "nominal", "scale": {"domain": ["CT", "CT_RC"], "range": [[4, 2.5], [1, 0]]}, "legend": {"legendX": 196, "legendY": -28}}
  },
  "layer": [
    {"data": {"name": "crc"}, "mark": {"type": "line", "strokeWidth": 2.3}},
    {"data": {"name": "c"}, "mark": {"type": "line", "strokeWidth": 2.3}, "encoding": {"detail": {"field": "g", "type": "nominal"}}}
  ]
 }
]},
{"spacing": 0,
 "resolve": {"scale": {"color": "independent", "strokeDash": "independent"}, "legend": {"color": "independent", "strokeDash": "independent"}},
 "hconcat": [
 {"width": 1, "height": 1, "data": {"values": []}, "mark": {"type": "point", "opacity": 0}},
 {
  "width": 565, "height": 180,
  "title": {"text": "Ratio of Culex tritaeniorhynchus", "dx": -5, "fontStyle": "italic"},
  "encoding": {
    "x": {"field": "w", "type": "quantitative", "scale": {"domain": [-3, 415.9], "nice": false, "zero": false}, "axis": {"values": [26,78,130,182,234,286,338,390], "labelExpr": "'' + (2009 + floor(datum.value / 52))", "labelPadding": 4}},
    "y": {"field": "v", "type": "quantitative", "scale": {"domain": [-10, 70], "nice": false, "zero": false}, "axis": {"values": [-10,0,10,20,30,40,50,60,70], "minExtent": 50, "maxExtent": 50, "labelExpr": "replace(format(datum.value, 'd'), '−', '-')"}},
    "color": {"field": "s", "type": "nominal", "scale": {"domain": ["RATIO", "RATIO_RC"], "range": ["#4a6fc7", "#953735"]}, "legend": {"legendX": 186, "legendY": -28}},
    "strokeDash": {"field": "s", "type": "nominal", "scale": {"domain": ["RATIO", "RATIO_RC"], "range": [[4, 2.5], [1, 0]]}, "legend": {"legendX": 186, "legendY": -28}}
  },
  "layer": [
    {"data": {"name": "rrc"}, "mark": {"type": "line", "strokeWidth": 2.3}},
    {"data": {"name": "r"}, "mark": {"type": "line", "strokeWidth": 2.3}, "encoding": {"detail": {"field": "g", "type": "nominal"}}}
  ]
 }
]}
]
}
